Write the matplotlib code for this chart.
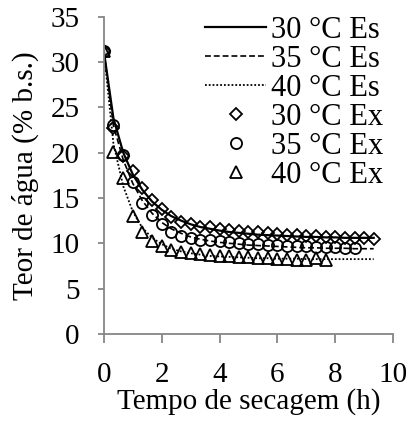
import matplotlib.pyplot as plt

# Drying time (h), steps of 20 min
tempo = [0, 0.33, 0.67, 1.00, 1.33, 1.67, 2.00, 2.33, 2.67, 3.00, 3.33, 3.67, 4.00, 4.33,
         4.67, 5.00, 5.33, 5.67, 6.00, 6.33, 6.67, 7.00, 7.33, 7.67, 8.00, 8.33, 8.67,
         9.00, 9.33]

# Experimental moisture content (% b.s.)
ex_30 = [31.2, 22.7, 19.6, 18.0, 16.1, 14.8, 13.8, 12.9, 12.4, 12.1, 11.85, 11.75, 11.6,
         11.5, 11.4, 11.3, 11.2, 11.15, 11.05, 10.95, 10.9, 10.8, 10.75, 10.7, 10.65,
         10.6, 10.6, 10.55, 10.5]
ex_35 = [31.2, 23.1, 19.8, 16.8, 14.5, 13.1, 12.1, 11.3, 10.85, 10.6, 10.4, 10.35, 10.2,
         10.1, 10.05, 9.95, 9.9, 9.85, 9.8, 9.75, 9.7, 9.65, 9.6, 9.6, 9.55, 9.5, 9.5]
ex_40 = [31.2, 20.1, 17.2, 13.0, 11.2, 10.2, 9.65, 9.25, 9.05, 8.9, 8.8, 8.75, 8.65, 8.6,
         8.5, 8.45, 8.4, 8.35, 8.3, 8.25, 8.2, 8.15, 8.35, 8.1]

# Estimated (model) moisture content
es_30 = [31.2, 23.8, 20.0, 17.6, 15.9, 14.6, 13.7, 13.0, 12.5, 12.1, 11.8, 11.6, 11.4,
         11.25, 11.15, 11.05, 10.95, 10.9, 10.85, 10.8, 10.75, 10.7, 10.7, 10.65, 10.65,
         10.6, 10.6, 10.6, 10.6]
es_35 = [31.2, 23.0, 19.2, 16.6, 14.7, 13.3, 12.3, 11.6, 11.1, 10.7, 10.45, 10.25, 10.1,
         10.0, 9.9, 9.8, 9.75, 9.7, 9.65, 9.6, 9.55, 9.5, 9.5, 9.45, 9.45, 9.45, 9.4,
         9.4, 9.4]
es_40 = [31.2, 21.0, 16.3, 13.5, 11.7, 10.6, 9.9, 9.4, 9.1, 8.9, 8.75, 8.6, 8.55, 8.5,
         8.45, 8.4, 8.35, 8.35, 8.3, 8.3, 8.3, 8.25, 8.25, 8.25, 8.25, 8.25, 8.25, 8.25,
         8.25]

plt.rcParams['font.family'] = ['Liberation Serif', 'DejaVu Serif']
plt.rcParams['font.size'] = 21

fig = plt.figure(figsize=(4.09, 4.21), dpi=100)
ax = fig.add_axes([0.254, 0.207, 0.707, 0.753])

ax.plot(tempo, es_30, color='black', lw=1.6, ls='-', label='30 °C Es')
ax.plot(tempo, es_35, color='black', lw=1.2, ls=(0, (3.5, 1.8)), label='35 °C Es')
ax.plot(tempo, es_40, color='black', lw=1.3, ls=(0, (1, 1.1)), label='40 °C Es')
ax.plot(tempo[:len(ex_30)], ex_30, ls='none', marker='D', ms=6.5, mfc='none', mec='black',
        mew=1.3, label='30 °C Ex')
ax.plot(tempo[:len(ex_35)], ex_35, ls='none', marker='o', ms=8, mfc='none', mec='black',
        mew=1.3, label='35 °C Ex')
ax.plot(tempo[:len(ex_40)], ex_40, ls='none', marker='^', ms=8, mfc='none', mec='black',
        mew=1.3, label='40 °C Ex')

ax.set_xlim(0, 10)
ax.set_ylim(0, 35)
ax.set_xticks(range(0, 11, 2))
ax.set_yticks(range(0, 36, 5))

for s in ['top', 'right']:
    ax.spines[s].set_visible(False)
for s in ['left', 'bottom']:
    ax.spines[s].set_color('#868686')
    ax.spines[s].set_linewidth(1.3)
ax.tick_params(axis='x', direction='out', length=6.5, width=1.3, color='#868686', pad=14)
ax.tick_params(axis='y', direction='out', length=4.3, width=1.3, color='#868686', pad=13)

ax.set_xlabel('Tempo de secagem (h)', labelpad=0)
ax.set_ylabel('Teor de água (% b.s.)', labelpad=8)

ax.legend(loc='upper left', bbox_to_anchor=(205 / 409, 1 - 16 / 421),
          bbox_transform=fig.transFigure, frameon=False, handlelength=2.0,
          handletextpad=0.15, labelspacing=0.0, borderpad=0, borderaxespad=0,
          fontsize=22)

plt.savefig('out.png', dpi=100)
plt.close()
